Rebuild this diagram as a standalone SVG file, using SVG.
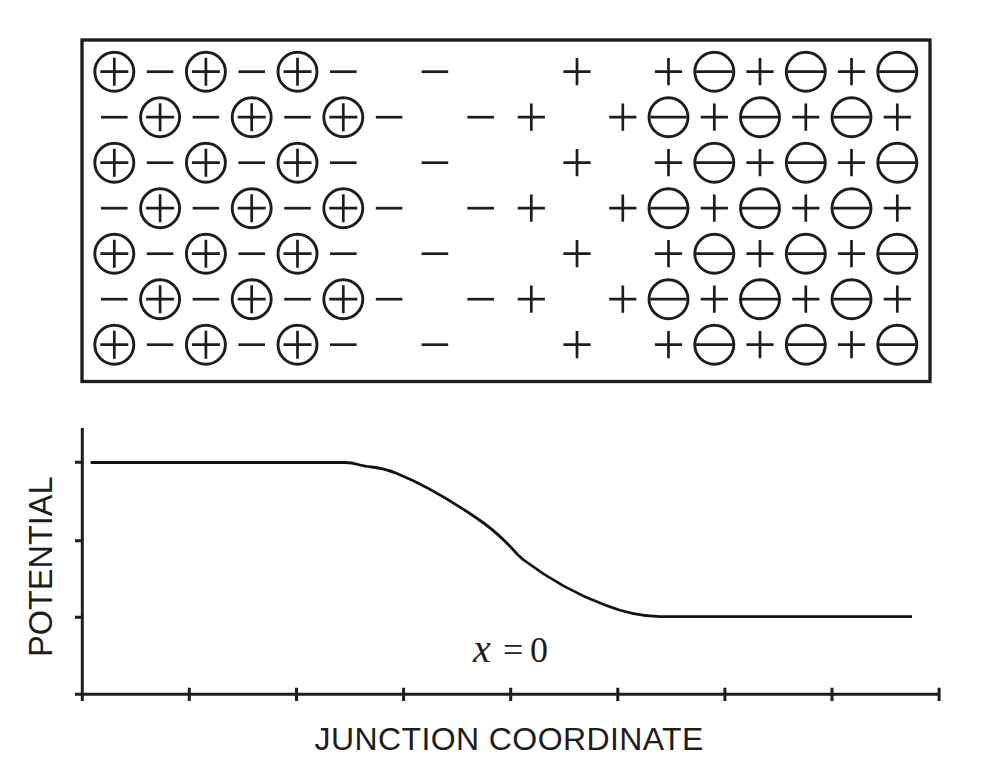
<svg xmlns="http://www.w3.org/2000/svg" xmlns:xlink="http://www.w3.org/1999/xlink" width="984" height="767" viewBox="0 0 984 767">
<style>
.ink{stroke:#1d1d1b;fill:none;stroke-linecap:butt}
.sym{stroke:#1d1d1b;stroke-width:2.7;fill:none}
.ring{stroke:#1d1d1b;stroke-width:2.9;fill:none}
.axis{stroke:#1d1d1b;stroke-width:3;fill:none}
.curve{stroke:#111;stroke-width:2.8;fill:none;stroke-linejoin:round}
.lbl{font-family:"Liberation Sans",Arial,sans-serif;fill:#1d1d1b}
.math{font-family:"Liberation Serif","Times New Roman",serif;fill:#1d1d1b}
</style>
<defs>
<g id="plus"><path class="sym" d="M-13.6 0H13.6M0 -13.6V13.6"/></g>
<g id="minus"><path class="sym" d="M-13.3 0H13.3"/></g>
<g id="pion"><circle class="ring" r="19.5"/><path class="sym" d="M-14 0H14M0 -14V14"/></g>
<g id="nion"><circle class="ring" r="19.5"/><path class="sym" d="M-18.2 0H18.2"/></g>
<g id="rowA">
<use xlink:href="#pion" x="114.3"/><use xlink:href="#minus" x="160.1"/><use xlink:href="#pion" x="205.9"/><use xlink:href="#minus" x="251.7"/><use xlink:href="#pion" x="297.5"/><use xlink:href="#minus" x="343.3"/>
<use xlink:href="#minus" x="434.9"/>
<use xlink:href="#plus" x="577"/>
<use xlink:href="#plus" x="668.5"/><use xlink:href="#nion" x="714.3"/><use xlink:href="#plus" x="760"/><use xlink:href="#nion" x="805.8"/><use xlink:href="#plus" x="851.5"/><use xlink:href="#nion" x="897.3"/>
</g>
<g id="rowB">
<use xlink:href="#minus" x="114.3"/><use xlink:href="#pion" x="160.1"/><use xlink:href="#minus" x="205.9"/><use xlink:href="#pion" x="251.7"/><use xlink:href="#minus" x="297.5"/><use xlink:href="#pion" x="343.3"/><use xlink:href="#minus" x="389.1"/>
<use xlink:href="#minus" x="480.7"/><use xlink:href="#plus" x="531.3"/>
<use xlink:href="#plus" x="622.8"/><use xlink:href="#nion" x="668.5"/><use xlink:href="#plus" x="714.3"/><use xlink:href="#nion" x="760"/><use xlink:href="#plus" x="805.8"/><use xlink:href="#nion" x="851.5"/><use xlink:href="#plus" x="897.3"/>
</g>
</defs>
<rect width="984" height="767" fill="#ffffff"/>
<g id="junction-box">
<rect class="ink" x="82" y="40" width="848" height="341.5" stroke-width="3.3"/>
</g>
<g id="lattice">
<use xlink:href="#rowA" y="71.7"/>
<use xlink:href="#rowB" y="117.2"/>
<use xlink:href="#rowA" y="162.7"/>
<use xlink:href="#rowB" y="208.2"/>
<use xlink:href="#rowA" y="253.7"/>
<use xlink:href="#rowB" y="299.2"/>
<use xlink:href="#rowA" y="344.7"/>
</g>
<g id="plot-axes">
<path class="axis" d="M82.3 428V701M75 694.3H940"/>
<path class="axis" d="M75 462.3H82.3M75 540.7H82.3M75 617.3H82.3"/>
<path class="axis" d="M189.3 687.7V701M296.5 687.7V701M403.6 687.7V701M510.7 687.7V701M617.8 687.7V701M724.9 687.7V701M832 687.7V701M939.1 687.7V701"/>
</g>
<g id="potential-curve">
<path class="curve" d="M90.7 462.5L345 462.5Q352 462.6 358 464.5Q363 466 372 467Q385 468.5 397 473.5C425 485 450 500 475 517Q498 532 518 555L523 559.5C545 576 575 594 605 605C625 613 645 616.3 660 616.7L912 616.7"/>
</g>
<g id="labels">
<text class="math" y="662" font-size="36"><tspan x="473" font-style="italic" font-size="40">x</tspan> <tspan x="503">=</tspan> <tspan x="530">0</tspan></text>
<text class="lbl" transform="translate(52.3 566.7) rotate(-90)" text-anchor="middle" font-size="32.5">POTENTIAL</text>
<text class="lbl" x="509.2" y="749.5" text-anchor="middle" font-size="32" letter-spacing="0.4">JUNCTION COORDINATE</text>
</g>
</svg>
